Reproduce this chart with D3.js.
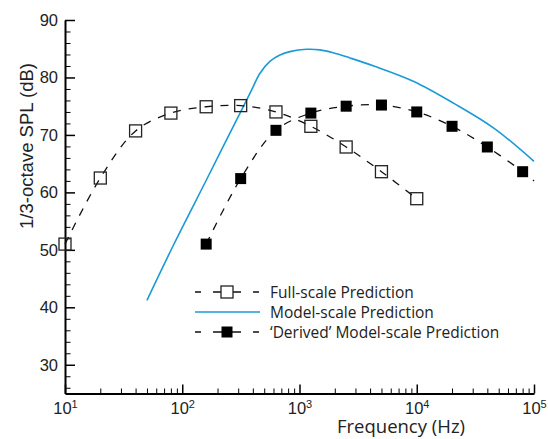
<!DOCTYPE html>
<html>
<head>
<meta charset="utf-8">
<title>1/3-octave SPL</title>
<script src="https://cdn.jsdelivr.net/npm/d3@7"></script>
<style>
  body { margin: 0; background: #fff; }
  .tick text { font-family: "Liberation Sans", Arial, sans-serif; font-size: 16.5px; fill: #222; }
</style>
</head>
<body>
<script>
// frequencies (Hz) and levels (dB)
var fullFreq = [10, 20, 40, 80, 160, 315, 630, 1250, 2500, 5000, 10000];
var fullSpl  = [51.0, 62.5, 70.7, 73.8, 74.9, 75.1, 74.0, 71.5, 67.9, 63.6, 58.9];

var derivedFreq = [160, 315, 630, 1250, 2500, 5000, 10000, 20000, 40000, 80000];
var derivedSpl  = [51.0, 62.4, 70.8, 73.8, 75.0, 75.2, 74.0, 71.5, 67.9, 63.6];
// dashed curve keeps going past the last symbol
var derivedTailFreq = [100000];
var derivedTailSpl  = [62.0];

var modelFreq = [50, 84, 161, 239, 315, 390, 459, 559, 681, 828, 1150, 1493, 1936, 2690, 4305, 9441, 20700, 45400, 100000];
var modelSpl  = [41.2, 50.8, 62.2, 69.2, 74.0, 77.8, 80.7, 82.8, 83.9, 84.5, 84.9, 84.8, 84.3, 83.4, 82.0, 79.3, 75.5, 71.2, 65.4];

var xMajor = [10, 100, 1000, 10000, 100000];
var yMajor = [30, 40, 50, 60, 70, 80, 90];

var legendLabels = ["Full-scale Prediction", "Model-scale Prediction", "\u2018Derived\u2019 Model-scale Prediction"];

var width = 548, height = 439;
var blue = "#1b9ad6";

var svg = d3.select("body").append("svg")
    .attr("width", width)
    .attr("height", height);

var x = d3.scaleLog().domain([10, 100000]).range([65, 534]);
var y = d3.scaleLinear().domain([25, 90]).range([393.5, 20]);

var xMinor = [];
xMajor.slice(0, -1).forEach(function(d) {
  for (var k = 2; k <= 9; k++) xMinor.push(d * k);
});
var yMinor = d3.range(26, 90, 2).filter(function(v) { return v % 10 != 0; });

// minor ticks
svg.append("g")
    .attr("transform", "translate(0," + y(25) + ")")
    .call(d3.axisBottom(x).tickValues(xMinor).tickSize(-5).tickFormat(""))
    .call(function(g) { g.select(".domain").remove(); });
svg.append("g")
    .attr("transform", "translate(" + x(10) + ",0)")
    .call(d3.axisLeft(y).tickValues(yMinor).tickSize(-5.5).tickFormat(""))
    .call(function(g) { g.select(".domain").remove(); });

// major axes
var xAxis = svg.append("g")
    .attr("transform", "translate(0," + y(25) + ")")
    .call(d3.axisBottom(x).tickValues(xMajor).tickSize(-9).tickPadding(7).tickSizeOuter(0));
xAxis.select(".domain").attr("stroke-width", 2);
xAxis.selectAll(".tick line").attr("stroke-width", 1.5);
xAxis.selectAll(".tick text")
    .attr("dy", "0.8em")
    .each(function(d) {
      var t = d3.select(this);
      t.text(null);
      t.append("tspan").text("10");
      t.append("tspan").attr("dy", "-0.55em").attr("font-size", "11px").text(Math.round(Math.log10(d)));
    });

var yAxis = svg.append("g")
    .attr("transform", "translate(" + x(10) + ",0)")
    .call(d3.axisLeft(y).tickValues(yMajor).tickSize(-10).tickPadding(7).tickSizeOuter(0));
yAxis.select(".domain").attr("stroke-width", 2);
yAxis.selectAll(".tick line").attr("stroke-width", 1.5);

// axis titles
svg.append("text")
    .attr("x", 401)
    .attr("y", 433)
    .attr("text-anchor", "middle")
    .style("font-family", "'Open Sans', sans-serif")
    .style("font-size", "18.5px")
    .attr("fill", "#222")
    .text("Frequency (Hz)");

svg.append("text")
    .attr("transform", "translate(33,146) rotate(-90)")
    .attr("text-anchor", "middle")
    .style("font-family", "'Liberation Sans', Arial, sans-serif")
    .style("font-size", "18.5px")
    .attr("fill", "#222")
    .text("1/3-octave SPL (dB)");

// curves
var pairs = function(fs, vs) { return fs.map(function(f, i) { return [f, vs[i]]; }); };
var fullData = pairs(fullFreq, fullSpl);
var derivedData = pairs(derivedFreq, derivedSpl);
var modelData = pairs(modelFreq, modelSpl);

var line = d3.line()
    .x(function(d) { return x(d[0]); })
    .y(function(d) { return y(d[1]); })
    .curve(d3.curveCatmullRom);

svg.append("path")
    .datum(modelData)
    .attr("fill", "none")
    .attr("stroke", blue)
    .attr("stroke-width", 1.6)
    .attr("d", line);

svg.append("path")
    .datum(fullData)
    .attr("fill", "none")
    .attr("stroke", "#111")
    .attr("stroke-width", 1.3)
    .attr("stroke-dasharray", "8,8")
    .attr("d", line);

svg.append("path")
    .datum(derivedData.concat(pairs(derivedTailFreq, derivedTailSpl)))
    .attr("fill", "none")
    .attr("stroke", "#111")
    .attr("stroke-width", 1.3)
    .attr("stroke-dasharray", "8,8")
    .attr("d", line);

// symbols
var openSize = 12, filledSize = 11;
svg.selectAll(".open")
    .data(fullData)
    .enter().append("rect")
    .attr("class", "open")
    .attr("x", function(d) { return x(d[0]) - openSize / 2; })
    .attr("y", function(d) { return y(d[1]) - openSize / 2; })
    .attr("width", openSize)
    .attr("height", openSize)
    .attr("fill", "none")
    .attr("stroke", "#222")
    .attr("stroke-width", 1.3);

svg.selectAll(".filled")
    .data(derivedData)
    .enter().append("rect")
    .attr("class", "filled")
    .attr("x", function(d) { return x(d[0]) - filledSize / 2; })
    .attr("y", function(d) { return y(d[1]) - filledSize / 2; })
    .attr("width", filledSize)
    .attr("height", filledSize)
    .attr("fill", "#000");

// legend
var legendY = [292, 312, 332];
var lg = svg.append("g");
legendLabels.forEach(function(label, i) {
  var yy = legendY[i];
  if (i == 1) {
    lg.append("line").attr("x1", 195).attr("x2", 260).attr("y1", yy).attr("y2", yy)
      .attr("stroke", blue).attr("stroke-width", 1.6);
  } else {
    lg.append("line").attr("x1", 195).attr("x2", 259).attr("y1", yy).attr("y2", yy)
      .attr("stroke", "#111").attr("stroke-width", 1.3).attr("stroke-dasharray", "6,12,28,12,6");
    var s = i == 0 ? openSize : filledSize;
    lg.append("rect")
      .attr("x", 227 - s / 2).attr("y", yy - s / 2)
      .attr("width", s).attr("height", s)
      .attr("fill", i == 0 ? "#fff" : "#000")
      .attr("stroke", i == 0 ? "#222" : "none")
      .attr("stroke-width", 1.3);
  }
  lg.append("text")
    .attr("x", 270)
    .attr("y", yy + 5.5)
    .style("font-family", "'Open Sans', sans-serif")
    .style("font-size", "15.5px")
    .attr("fill", "#222")
    .text(label);
});
</script>
</body>
</html>
